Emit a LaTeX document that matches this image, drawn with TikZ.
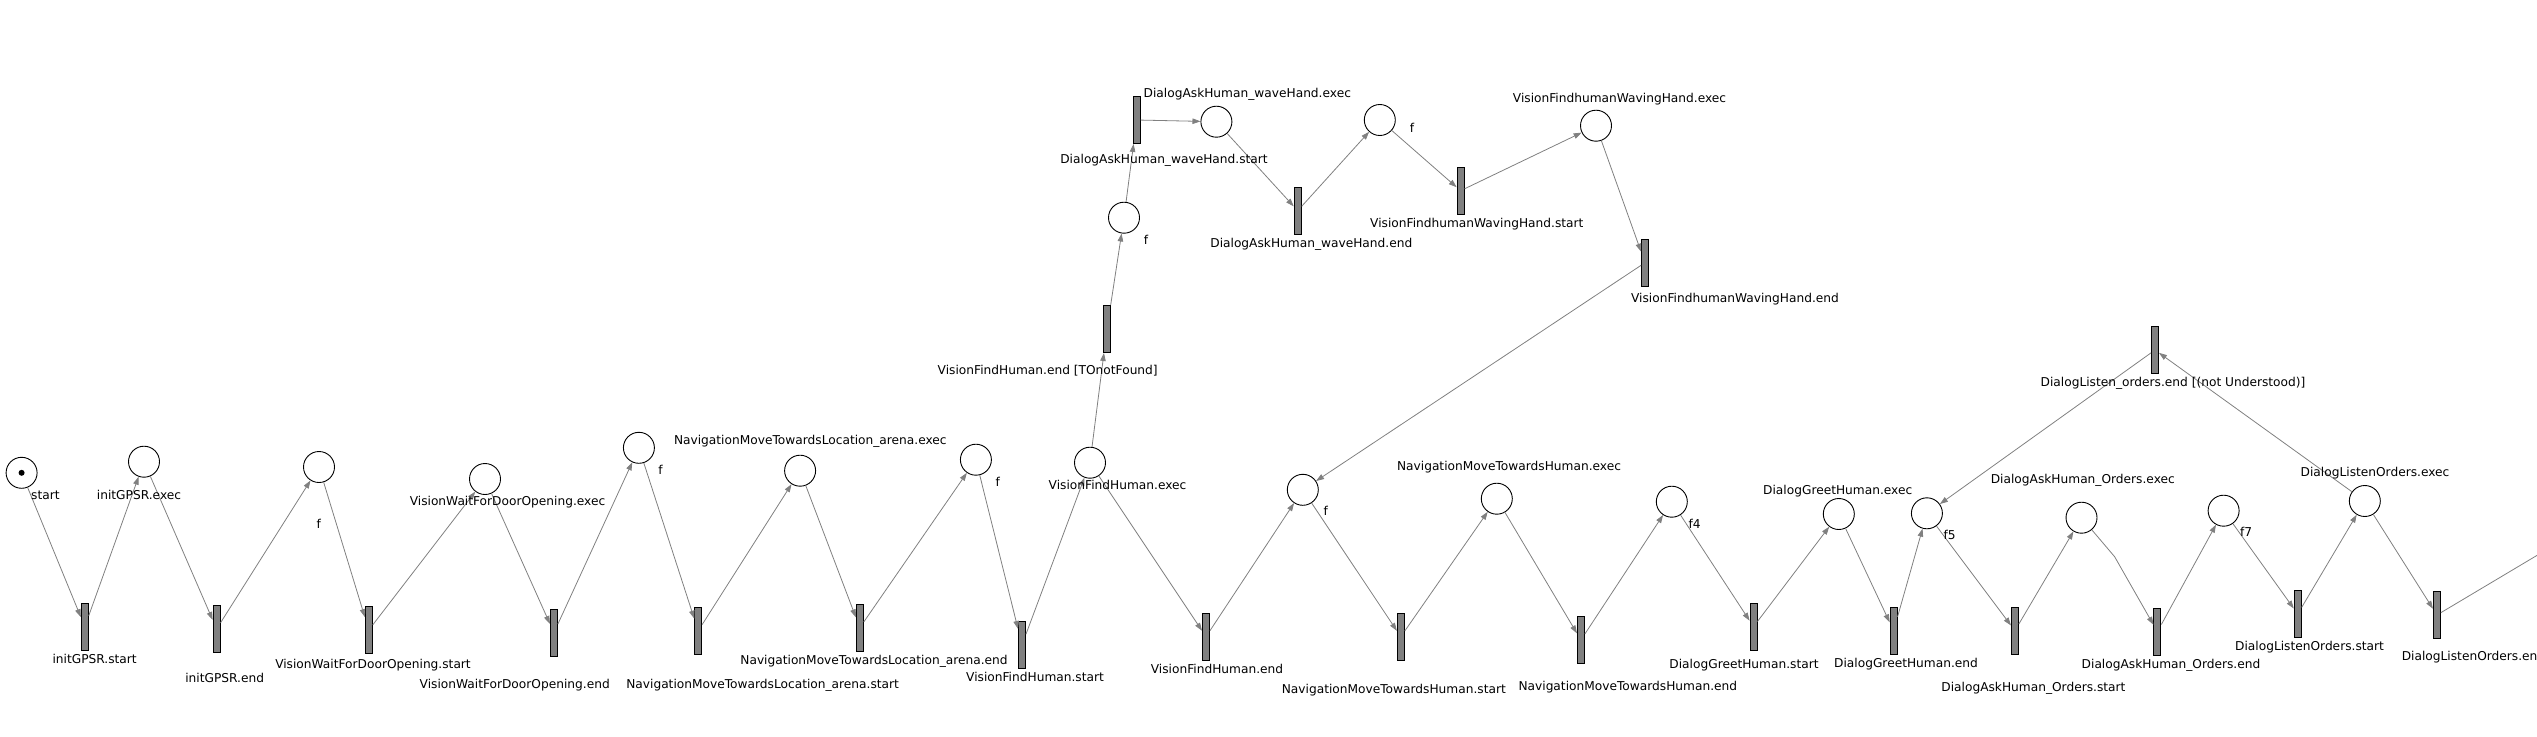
\documentclass[tikz,border=0pt]{standalone}
\usepackage{fontspec}
\setmainfont{DejaVu Sans}
\usetikzlibrary{arrows.meta}
\definecolor{arccol}{RGB}{128,128,128}
\definecolor{tfill}{RGB}{128,128,128}
\begin{document}
\begin{tikzpicture}[x=1pt,y=-1pt,
  place/.style={circle,draw=black,fill=white,line width=0.9pt,minimum size=31pt,inner sep=0pt},
  trans/.style={rectangle,draw=black,fill=tfill,line width=0.9pt,minimum width=7pt,minimum height=47pt,inner sep=0pt},
  lbl/.style={font=\fontsize{12.2}{14}\selectfont,inner sep=0pt,text height=9pt,text depth=2.5pt},
  pnarc/.style={draw=arccol,line width=0.8pt,-{Triangle[length=8pt,width=5.5pt]}},
  pnline/.style={draw=arccol,line width=0.8pt}]
\useasboundingbox (0,0) rectangle (2537,736);
\clip (0,0) rectangle (2537,736);
% places
\node[place] (pstart) at (21.6,472.8) {};
\fill (pstart) circle (3pt);
\node[place] (pinitexec) at (144,461.7) {};
\node[place] (pf1) at (319,467) {};
\node[place] (pvwexec) at (485,479) {};
\node[place] (pf2) at (638.9,447.8) {};
\node[place] (pnaexec) at (800.1,470.7) {};
\node[place] (pf3) at (975.9,459.7) {};
\node[place] (pvfhexec) at (1090,462.7) {};
\node[place] (pfto) at (1124,217.7) {};
\node[place] (pdwexec) at (1216.4,121.7) {};
\node[place] (pfw) at (1379.8,120) {};
\node[place] (pvwhexec) at (1596,125.7) {};
\node[place] (pf) at (1302.8,489.8) {};
\node[place] (pnhexec) at (1496.8,498.7) {};
\node[place] (pf4) at (1671.8,501.7) {};
\node[place] (pdgexec) at (1838.8,514) {};
\node[place] (pf5) at (1926.9,513.3) {};
\node[place] (pdaexec) at (2081.5,517.7) {};
\node[place] (pf7) at (2223.6,510.7) {};
\node[place] (pdlexec) at (2364.8,501) {};
% transitions
\node[trans] (tis) at (84.8,626.7) {};
\node[trans] (tie) at (216.6,629) {};
\node[trans] (tvws) at (368.8,630) {};
\node[trans] (tvwe) at (553.9,632.7) {};
\node[trans] (tnas) at (698.2,630.8) {};
\node[trans] (tnae) at (859.8,627.7) {};
\node[trans] (tvfhs) at (1022,644.8) {};
\node[trans] (tvfhe) at (1206,636.7) {};
\node[trans] (tvfhnf) at (1107,329) {};
\node[trans] (tdws) at (1136.7,120) {};
\node[trans] (tdwe) at (1297.7,210.7) {};
\node[trans] (tvwhs) at (1460.6,190.7) {};
\node[trans] (tvwhe) at (1645,262.7) {};
\node[trans] (tnhs) at (1400.8,636.7) {};
\node[trans] (tnhe) at (1580.9,640) {};
\node[trans] (tdgs) at (1753.5,626.7) {};
\node[trans] (tdge) at (1893.6,630.7) {};
\node[trans] (tdas) at (2014.9,630.7) {};
\node[trans] (tdae) at (2157.4,631.7) {};
\node[trans] (tdls) at (2297.7,614) {};
\node[trans] (tdle) at (2436.9,615) {};
\node[trans] (tdlnot) at (2155,350) {};
\coordinate (kink) at (2114.6,556.7);
\coordinate (offr) at (2640,494);
% arcs
\draw[pnarc] (pstart) -- (tis);
\draw[pnarc] (tis) -- (pinitexec);
\draw[pnarc] (pinitexec) -- (tie);
\draw[pnarc] (tie) -- (pf1);
\draw[pnarc] (pf1) -- (tvws);
\draw[pnarc] (tvws) -- (pvwexec);
\draw[pnarc] (pvwexec) -- (tvwe);
\draw[pnarc] (tvwe) -- (pf2);
\draw[pnarc] (pf2) -- (tnas);
\draw[pnarc] (tnas) -- (pnaexec);
\draw[pnarc] (pnaexec) -- (tnae);
\draw[pnarc] (tnae) -- (pf3);
\draw[pnarc] (pf3) -- (tvfhs);
\draw[pnarc] (tvfhs) -- (pvfhexec);
\draw[pnarc] (pvfhexec) -- (tvfhe);
\draw[pnarc] (pvfhexec) -- (tvfhnf);
\draw[pnarc] (tvfhnf) -- (pfto);
\draw[pnarc] (pfto) -- (tdws);
\draw[pnarc] (tdws) -- (pdwexec);
\draw[pnarc] (pdwexec) -- (tdwe);
\draw[pnarc] (tdwe) -- (pfw);
\draw[pnarc] (pfw) -- (tvwhs);
\draw[pnarc] (tvwhs) -- (pvwhexec);
\draw[pnarc] (pvwhexec) -- (tvwhe);
\draw[pnarc] (tvwhe) -- (pf);
\draw[pnarc] (tvfhe) -- (pf);
\draw[pnarc] (pf) -- (tnhs);
\draw[pnarc] (tnhs) -- (pnhexec);
\draw[pnarc] (pnhexec) -- (tnhe);
\draw[pnarc] (tnhe) -- (pf4);
\draw[pnarc] (pf4) -- (tdgs);
\draw[pnarc] (tdgs) -- (pdgexec);
\draw[pnarc] (pdgexec) -- (tdge);
\draw[pnarc] (tdge) -- (pf5);
\draw[pnarc] (tdlnot) -- (pf5);
\draw[pnarc] (pf5) -- (tdas);
\draw[pnarc] (tdas) -- (pdaexec);
\draw[pnarc] (pdaexec) -- (kink) -- (tdae);
\draw[pnarc] (tdae) -- (pf7);
\draw[pnarc] (pf7) -- (tdls);
\draw[pnarc] (tdls) -- (pdlexec);
\draw[pnarc] (pdlexec) -- (tdlnot);
\draw[pnarc] (pdlexec) -- (tdle);
\draw[pnline] (tdle) -- (offr);
% labels
\node[lbl,anchor=west] (l0) at (31,496) {start};
\node[lbl] (l1) at (139,496) {initGPSR.exec};
\node[lbl] (l2) at (94.6,660.7) {initGPSR.start};
\node[lbl] (l3) at (318.8,525.3) {f};
\node[lbl] (l4) at (224.7,679.3) {initGPSR.end};
\node[lbl] (l5) at (373,665) {VisionWaitForDoorOpening.start};
\node[lbl] (l6) at (507.5,502.7) {VisionWaitForDoorOpening.exec};
\node[lbl] (l7) at (514.7,685) {VisionWaitForDoorOpening.end};
\node[lbl] (l8) at (660.6,471) {f};
\node[lbl] (l9) at (762.6,685) {NavigationMoveTowardsLocation\_arena.start};
\node[lbl] (l10) at (810.3,441.7) {NavigationMoveTowardsLocation\_arena.exec};
\node[lbl] (l11) at (874,661.7) {NavigationMoveTowardsLocation\_arena.end};
\node[lbl] (l12) at (997.7,483.3) {f};
\node[lbl] (l13) at (1035,678.3) {VisionFindHuman.start};
\node[lbl] (l14) at (1117.5,486) {VisionFindHuman.exec};
\node[lbl] (l15) at (1217,670) {VisionFindHuman.end};
\node[lbl] (l16) at (1047.7,371.7) {VisionFindHuman.end [TOnotFound]};
\node[lbl] (l17) at (1145.9,241.7) {f};
\node[lbl] (l18) at (1164,160.7) {DialogAskHuman\_waveHand.start};
\node[lbl] (l19) at (1247.3,94) {DialogAskHuman\_waveHand.exec};
\node[lbl] (l20) at (1311.3,244.3) {DialogAskHuman\_waveHand.end};
\node[lbl] (l21) at (1412,129.3) {f};
\node[lbl] (l22) at (1476.8,224.7) {VisionFindhumanWavingHand.start};
\node[lbl] (l23) at (1619.5,99.3) {VisionFindhumanWavingHand.exec};
\node[lbl] (l24) at (1735,299.3) {VisionFindhumanWavingHand.end};
\node[lbl] (l25) at (1325.8,512) {f};
\node[lbl] (l26) at (1393.8,690) {NavigationMoveTowardsHuman.start};
\node[lbl] (l27) at (1509,467.7) {NavigationMoveTowardsHuman.exec};
\node[lbl] (l28) at (1627.8,687.3) {NavigationMoveTowardsHuman.end};
\node[lbl] (l29) at (1694.6,525) {f4};
\node[lbl] (l30) at (1744,665) {DialogGreetHuman.start};
\node[lbl] (l31) at (1837.7,491.7) {DialogGreetHuman.exec};
\node[lbl] (l32) at (1906,664) {DialogGreetHuman.end};
\node[lbl] (l33) at (1949.6,536.7) {f5};
\node[lbl] (l34) at (2033.4,688.3) {DialogAskHuman\_Orders.start};
\node[lbl] (l35) at (2082.8,480.7) {DialogAskHuman\_Orders.exec};
\node[lbl] (l36) at (2171,665.7) {DialogAskHuman\_Orders.end};
\node[lbl] (l37) at (2246.2,533.3) {f7};
\node[lbl] (l38) at (2309.5,647.7) {DialogListenOrders.start};
\node[lbl] (l39) at (2375,473.3) {DialogListenOrders.exec};
\node[lbl,anchor=west] (l40) at (2401.6,657.7) {DialogListenOrders.end};
\node[lbl] (l41) at (2173,383.3) {DialogListen\_orders.end [(not Understood)]};
\end{tikzpicture}
\end{document}
